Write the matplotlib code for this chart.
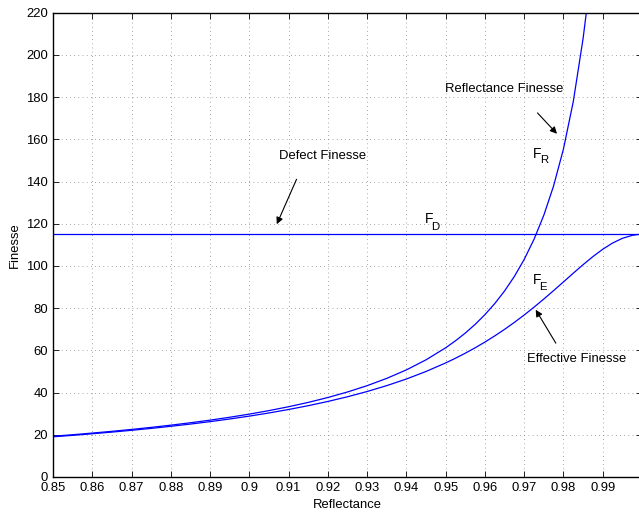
import matplotlib
matplotlib.use('Agg')
import matplotlib.pyplot as plt

plt.rcParams['font.family'] = ['Liberation Sans', 'DejaVu Sans']

# reflectance samples
refl_r = [0.85, 0.855, 0.86, 0.865, 0.87, 0.875, 0.88, 0.885, 0.89, 0.895,
          0.90, 0.905, 0.91, 0.915, 0.92, 0.925, 0.93, 0.935, 0.94, 0.945,
          0.95, 0.9525, 0.955, 0.9575, 0.96, 0.9625, 0.965, 0.9675, 0.97,
          0.9725, 0.975, 0.9775, 0.98, 0.9825, 0.985, 0.986]
# reflectance finesse F_R
fin_r = [19.31, 20.03, 20.81, 21.64, 22.54, 23.51, 24.56, 25.70, 26.94, 28.31,
         29.80, 31.46, 33.30, 35.35, 37.67, 40.29, 43.28, 46.74, 50.76, 55.53,
         61.24, 64.55, 68.22, 72.33, 76.95, 82.19, 88.17, 95.08, 103.14,
         112.66, 124.08, 138.05, 155.50, 177.94, 207.86, 222.82]

refl_e = [0.85, 0.855, 0.86, 0.865, 0.87, 0.875, 0.88, 0.885, 0.89, 0.895,
          0.90, 0.905, 0.91, 0.915, 0.92, 0.925, 0.93, 0.935, 0.94, 0.945,
          0.95, 0.9525, 0.955, 0.9575, 0.96, 0.9625, 0.965, 0.9675, 0.97,
          0.9725, 0.975, 0.9775, 0.98, 0.9825, 0.985, 0.9875, 0.99, 0.9925,
          0.995, 0.9975, 0.999, 1.0]
# effective finesse F_E
fin_e = [19.04, 19.73, 20.48, 21.27, 22.12, 23.03, 24.02, 25.08, 26.23, 27.49,
         28.85, 30.34, 31.99, 33.79, 35.80, 38.02, 40.51, 43.30, 46.44, 50.01,
         54.06, 56.29, 58.67, 61.23, 63.95, 66.87, 69.97, 73.28, 76.78,
         80.48, 84.35, 88.36, 92.46, 96.59, 100.63, 104.46, 107.93, 110.87,
         113.11, 114.52, 114.93, 115.0]

# defect finesse F_D
refl_d = [0.85, 1.0]
fin_d = [115.0, 115.0]

xticks = [0.85, 0.86, 0.87, 0.88, 0.89, 0.9, 0.91, 0.92, 0.93, 0.94,
          0.95, 0.96, 0.97, 0.98, 0.99]
yticks = [0, 20, 40, 60, 80, 100, 120, 140, 160, 180, 200, 220]

fs = 9.4

fig = plt.figure(figsize=(6.39, 5.12), dpi=100)
ax = fig.add_axes([0.083, 0.0684, 0.9217, 0.9066])

ax.plot(refl_r, fin_r, color='b', lw=0.9)
ax.plot(refl_e, fin_e, color='b', lw=0.9)
ax.plot(refl_d, fin_d, color='b', lw=0.9)

ax.set_xlim(0.85, 1.0)
ax.set_ylim(0, 220)
ax.set_xticks(xticks)
ax.set_xticklabels(['%g' % t for t in xticks])
ax.set_yticks(yticks)
ax.set_yticklabels([str(t) for t in yticks])
ax.tick_params(direction='in', top=True, right=True, length=4, width=0.6,
               labelsize=fs, colors='k')
ax.grid(True, color='0.35', lw=0.5, linestyle=(0, (1, 5)))
for s in ax.spines.values():
    s.set_linewidth(1.0)

ax.set_xlabel('Reflectance', fontsize=fs)
ax.set_ylabel('Finesse', fontsize=fs)

arrow = dict(arrowstyle='-|>', color='k', lw=0.8, mutation_scale=10)
ax.text(0.9187, 152.2, 'Defect Finesse', fontsize=fs, ha='center', va='center')
ax.annotate('', xy=(0.9067, 118.6), xytext=(0.9123, 142.3), arrowprops=arrow)
ax.text(0.9648, 183.9, 'Reflectance Finesse', fontsize=fs, ha='center', va='center')
ax.annotate('', xy=(0.97883, 161.7), xytext=(0.9729, 173.5), arrowprops=arrow)
ax.text(0.9833, 55.7, 'Effective Finesse', fontsize=fs, ha='center', va='center')
ax.annotate('', xy=(0.97256, 80.4), xytext=(0.97842, 62.3), arrowprops=arrow)

# curve names: F with a lowered subscript letter
def fname(x, y, xs, ys, sub):
    ax.text(x, y, 'F', fontsize=fs + 0.6, ha='left', va='baseline')
    ax.text(xs, ys, sub, fontsize=fs - 1.2, ha='left', va='baseline')

fname(0.9722, 151.4, 0.97409, 148.6, 'R')
fname(0.9447, 120.6, 0.94636, 117.0, 'D')
fname(0.9722, 91.5, 0.97392, 88.7, 'E')

fig.savefig('out.png', dpi=100)
